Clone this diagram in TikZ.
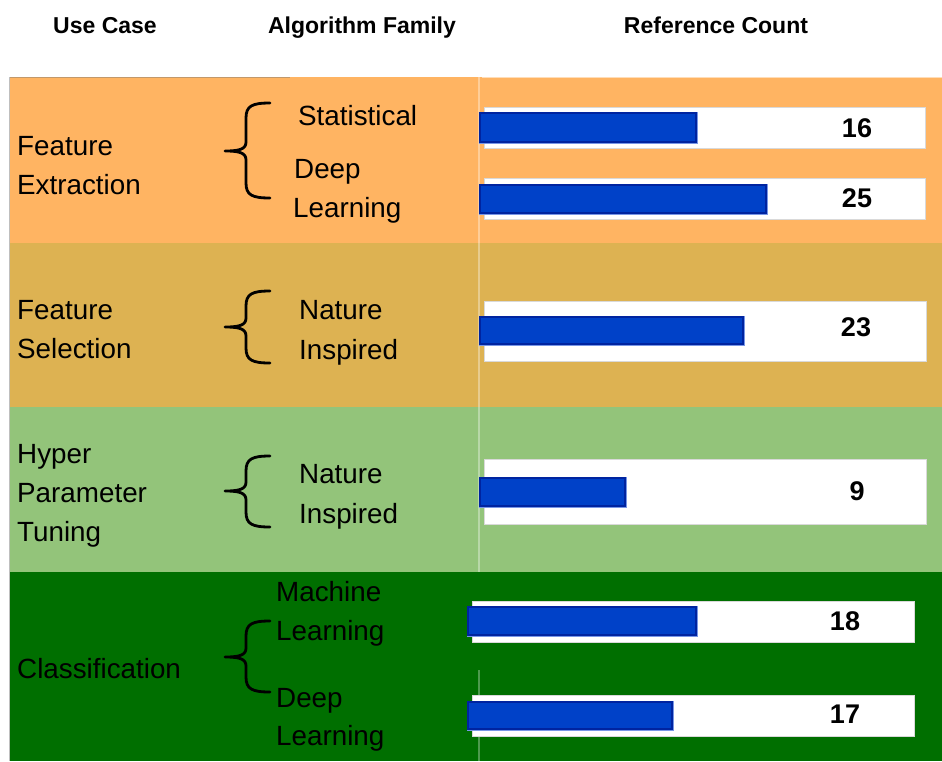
\documentclass[tikz,border=0pt]{standalone}
\usepackage{fontspec}
\setmainfont{Liberation Sans}
\definecolor{bandA}{RGB}{255,180,98}
\definecolor{bandB}{RGB}{221,178,82}
\definecolor{bandC}{RGB}{147,196,122}
\definecolor{bandD}{RGB}{0,111,0}
\definecolor{barblue}{RGB}{0,65,200}
\definecolor{baredge}{RGB}{0,36,160}
\definecolor{barhalo}{RGB}{120,150,230}
\tikzset{
  head/.style={anchor=base, inner sep=0pt, font=\fontsize{23}{28}\selectfont\bfseries},
  lbl/.style={anchor=base west, inner sep=0pt, font=\fontsize{27.8}{33}\selectfont},
  num/.style={anchor=base, inner sep=0pt, font=\fontsize{27}{32}\selectfont\bfseries},
  track/.style={fill=white, draw=white!85!black, line width=0.6pt},
  bar/.style={fill=barblue, draw=baredge, line width=1.6pt},
  halo/.style={draw=barhalo, line width=0.8pt},
  bracket/.style={draw=black, line width=2.8pt, line cap=round, line join=round},
}
% left curly brace: #1 top y, #2 tip y, #3 bottom y
\newcommand\FamBrace[3]{%
  \draw[bracket] (270,#1) .. controls (252,#1) and (246,#1+3) .. (246,#1+15)
    -- (246,#2-9) .. controls (246,#2-2) and (240,#2) .. (225,#2)
    .. controls (240,#2) and (246,#2+2) .. (246,#2+9)
    -- (246,#3-15) .. controls (246,#3-3) and (252,#3) .. (270,#3);}
% horizontal count bar: #1 name, #2 top y, #3 bottom y, #4 track left, #5 track right,
% #6 bar left, #7 bar right, #8 bar top, #9 bar bottom
\newcommand\CountBar[9]{%
  \path[track] (#4,#2) rectangle (#5,#3);
  \path[halo] (#6-1,#8-1) rectangle (#7+1,#9+1);
  \path[bar] (#6,#8) rectangle (#7,#9);
  \coordinate (#1) at (#5,{(#2+#3)/2});}
\begin{document}
\begin{tikzpicture}[x=1pt,y=-1pt]
\useasboundingbox (0,0) rectangle (942,761);
\fill[white] (0,0) rectangle (942,761);

% column headers
\node[head] (hUse) at (105,33) {Use Case};
\node[head] (hAlg) at (362,33) {Algorithm Family};
\node[head] (hRef) at (716,33) {Reference Count};

% coloured bands
\fill[bandA] (9,77) rectangle (942,243);
\fill[bandB] (9,243) rectangle (942,407);
\fill[bandC] (9,407) rectangle (942,572);
\fill[bandD] (9,572) rectangle (942,761);
\draw[color=bandA!70!black!80, line width=1.2pt] (9,77.6) -- (290,77.6);
\draw[color=bandA!45!white, line width=1.2pt] (482,77.6) -- (942,77.6);
\draw[color=black!25, line width=0.8pt] (9.4,77) -- (9.4,761);
% faint column divider
\draw[white, opacity=0.35, line width=1.2pt] (479,77) -- (479,572);
\draw[white, opacity=0.3, line width=1.2pt] (479,670) -- (479,761);

% use cases
\node[lbl] (u1a) at (17,155) {Feature};
\node[lbl] (u1b) at (17,194) {Extraction};
\node[lbl] (u2a) at (17,319) {Feature};
\node[lbl] (u2b) at (17,358) {Selection};
\node[lbl] (u3a) at (17,463) {Hyper};
\node[lbl] (u3b) at (17,502) {Parameter};
\node[lbl] (u3c) at (17,541) {Tuning};
\node[lbl] (u4a) at (17,678) {Classification};

% algorithm families
\FamBrace{103}{151}{198}
\node[lbl] (f1a) at (298,125) {Statistical};
\node[lbl] (f1b) at (294,178) {Deep};
\node[lbl] (f1c) at (293,217) {Learning};
\FamBrace{291}{327}{363}
\node[lbl] (f2a) at (299,319) {Nature};
\node[lbl] (f2b) at (299,359) {Inspired};
\FamBrace{456}{491}{527}
\node[lbl] (f3a) at (299,483) {Nature};
\node[lbl] (f3b) at (299,523) {Inspired};
\FamBrace{621}{657}{692}
\node[lbl] (f4a) at (276,601) {Machine};
\node[lbl] (f4b) at (276,640) {Learning};
\node[lbl] (f4c) at (276,707) {Deep};
\node[lbl] (f4d) at (276,745) {Learning};

% reference counts
\CountBar{b1}{107}{148}{484}{925}{480}{696}{113}{142}
\node[num] (n1) at (857,137) {16};
\CountBar{b2}{178}{219}{484}{925}{480}{766}{185}{213}
\node[num] (n2) at (857,207) {25};
\CountBar{b3}{301}{361}{484}{926}{480}{743}{317}{344}
\node[num] (n3) at (856,336) {23};
\CountBar{b4}{459}{524}{484}{926}{480}{625}{478}{506}
\node[num] (n4) at (857,500) {9};
\CountBar{b5}{601}{642}{472}{914}{468}{696}{607}{635}
\node[num] (n5) at (845,630) {18};
\CountBar{b6}{695}{736}{472}{914}{468}{672}{702}{729}
\node[num] (n6) at (845,723) {17};
\end{tikzpicture}
\end{document}
